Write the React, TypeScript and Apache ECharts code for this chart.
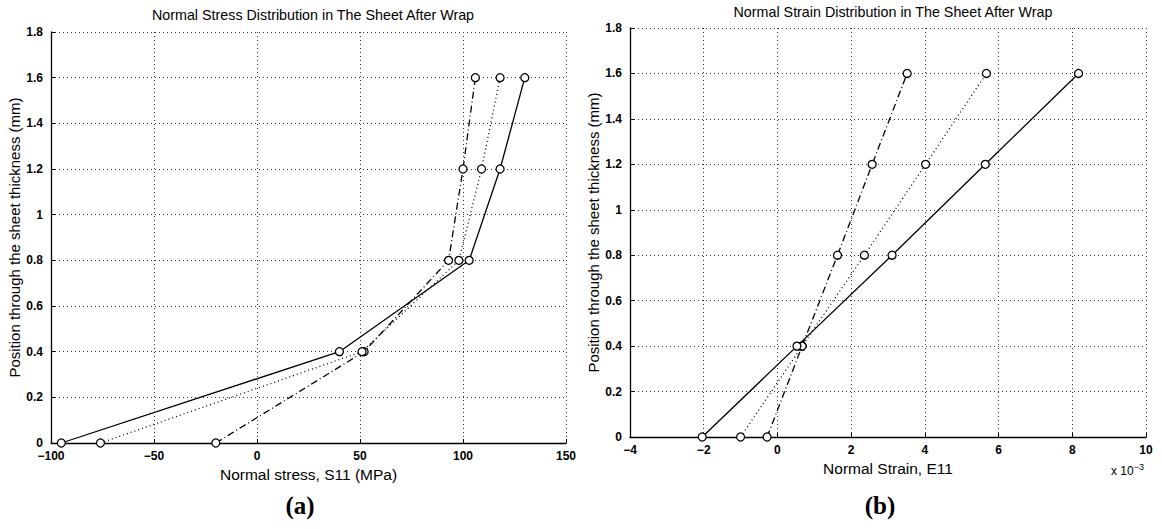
import React, { useEffect, useRef } from "react";
import * as echarts from "echarts";

const positions = [0, 0.4, 0.8, 1.2, 1.6];

const stressSolid = [-95, 40, 103, 118, 130];
const stressDotted = [-76, 51, 98, 109, 118];
const stressDashDot = [-20, 52, 93, 100, 106];

const strainSolid = [-2.04, 0.53, 3.11, 5.64, 8.17];
const strainDotted = [-1.0, 0.67, 2.36, 4.02, 5.67];
const strainDashDot = [-0.28, 0.67, 1.63, 2.57, 3.52];

const titles = [
  "Normal Stress Distribution in The Sheet After Wrap",
  "Normal Strain Distribution in The Sheet After Wrap",
];
const xNames = ["Normal stress, S11 (MPa)", "Normal Strain, E11"];
const yName = "Position through the sheet thickness (mm)";
const panelLabels = ["(a)", "(b)"];

const FONT = "'Liberation Sans', Arial, Helvetica, sans-serif";

const lineStyles: any[] = [
  { type: "solid" },
  { type: [1, 3] },
  { type: [7, 3, 1, 3] },
];

function pairs(xs: number[]) {
  return xs.map((x, i) => [x, positions[i]]);
}

export default function App() {
  const ref = useRef<HTMLDivElement>(null);
  useEffect(() => {
    if (!ref.current) return;
    const chart = echarts.init(ref.current, null, { renderer: "svg" });
    const grids = [
      { left: 51, top: 32, width: 515, height: 411 },
      { left: 630, top: 28, width: 516, height: 409 },
    ];
    const axisCommon = {
      axisLine: { show: true, onZero: false, lineStyle: { color: "#000", width: 1.3 } },
      axisTick: { show: true, inside: true, length: 4, lineStyle: { color: "#000" } },
      splitLine: { show: true, lineStyle: { color: "#333", type: [1, 3], width: 1 } },
      axisLabel: { color: "#000", fontFamily: FONT, fontSize: 12, fontWeight: "bold" },
      nameTextStyle: { color: "#000", fontFamily: FONT, fontSize: 15.5 },
    };
    const minus = (v: number) => String(v).replace("-", "\u2212");
    const xAxes = [
      {
        ...axisCommon,
        type: "value",
        gridIndex: 0,
        min: -100,
        max: 150,
        interval: 50,
        name: xNames[0],
        nameLocation: "middle",
        nameGap: 11,
        axisLabel: { ...axisCommon.axisLabel, margin: 7, formatter: minus },
      },
      {
        ...axisCommon,
        type: "value",
        gridIndex: 1,
        min: -4,
        max: 10,
        interval: 2,
        name: xNames[1],
        nameLocation: "middle",
        nameGap: 11,
        axisLabel: { ...axisCommon.axisLabel, margin: 7, formatter: minus },
      },
    ];
    const yAxes = [0, 1].map((g) => ({
      ...axisCommon,
      type: "value",
      gridIndex: g,
      min: 0,
      max: 1.8,
      interval: 0.2,
      name: yName,
      nameLocation: "middle",
      nameGap: 24,
      nameTextStyle: { color: "#000", fontFamily: FONT, fontSize: 15 },
      axisLabel: {
        ...axisCommon.axisLabel,
        margin: 8,
        formatter: (v: number) => String(Math.round(v * 10) / 10),
      },
    }));
    const sets = [
      [stressSolid, stressDotted, stressDashDot],
      [strainSolid, strainDotted, strainDashDot],
    ];
    const series: any[] = [];
    sets.forEach((group, g) => {
      group.forEach((xs, k) => {
        series.push({
          type: "line",
          xAxisIndex: g,
          yAxisIndex: g,
          data: pairs(xs),
          symbol: "circle",
          symbolSize: 8,
          showSymbol: true,
          lineStyle: { color: "#000", width: 1.3, ...lineStyles[k] },
          itemStyle: { color: "#fff", borderColor: "#000", borderWidth: 1.3 },
          z: 3 - k,
        });
      });
    });
    chart.setOption({
      animation: false,
      backgroundColor: "#fff",
      title: [
        {
          text: titles[0],
          left: 308,
          top: 3,
          textAlign: "center",
          textStyle: { fontFamily: FONT, fontSize: 14.3, fontWeight: "normal", color: "#000" },
        },
        {
          text: titles[1],
          left: 888,
          top: 0,
          textAlign: "center",
          textStyle: { fontFamily: FONT, fontSize: 14.3, fontWeight: "normal", color: "#000" },
        },
      ],
      grid: grids,
      xAxis: xAxes,
      yAxis: yAxes,
      series,
      graphic: [
        {
          type: "text",
          left: 1111,
          top: 462,
          style: {
            text: "x 10{sup|\u22123}",
            rich: { sup: { fontSize: 9, verticalAlign: "top", padding: [0, 0, 8, 0], fontFamily: FONT } },
            fontFamily: FONT,
            fontSize: 12,
            fill: "#000",
          },
        },
        {
          type: "text",
          x: 300,
          y: 505,
          style: {
            text: panelLabels[0],
            fontFamily: "'Liberation Serif', 'Times New Roman', serif",
            fontWeight: "bold",
            fontSize: 25,
            fill: "#000",
            align: "center",
            verticalAlign: "middle",
          },
        },
        {
          type: "text",
          x: 880,
          y: 505,
          style: {
            text: panelLabels[1],
            fontFamily: "'Liberation Serif', 'Times New Roman', serif",
            fontWeight: "bold",
            fontSize: 25,
            fill: "#000",
            align: "center",
            verticalAlign: "middle",
          },
        },
      ],
    });
    return () => chart.dispose();
  }, []);
  return (
    <div
      ref={ref}
      style={{ position: "fixed", left: 0, top: 0, width: 1162, height: 529, background: "#fff" }}
    />
  );
}
